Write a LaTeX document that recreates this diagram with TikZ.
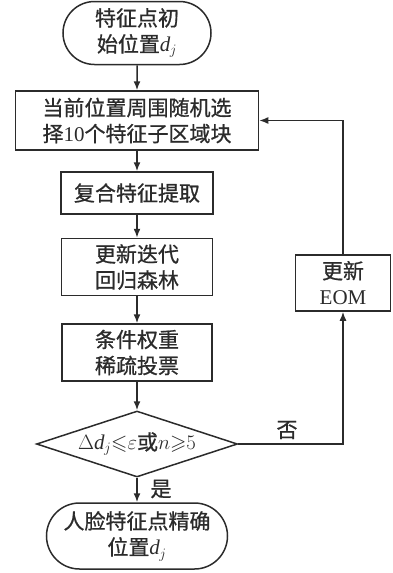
\documentclass[tikz,border=0pt]{standalone}
\usepackage{fontspec}
\usepackage{amssymb}
\setmainfont{Liberation Serif}
\newfontfamily\cjk[FakeBold=0.8]{Noto Sans CJK SC}
\usetikzlibrary{shapes.misc,shapes.geometric,arrows.meta}
\definecolor{ink}{HTML}{2B2B2B}
\newcommand\dvar{{\rmfamily\itshape d}\kern-0.5pt$_j$}
\begin{document}
\begin{tikzpicture}[x=1pt,y=-1pt,
  proc/.style={draw=ink, line width=1.5pt, align=center, inner sep=0pt,
    font=\cjk\fontsize{21}{26}\selectfont, text=ink},
  term/.style={proc, rounded rectangle},
  dec/.style={proc, diamond, aspect=3},
  lbl/.style={font=\cjk\fontsize{21}{26}\selectfont, text=ink, inner sep=0pt},
  arr/.style={draw=ink, line width=1.5pt, -{Latex[length=9pt,width=7pt]}}]
\useasboundingbox (0,0) rectangle (392,573);

\node[term, minimum width=148pt, minimum height=63pt] (start) at (137,33) {特征点初\\始位置\dvar};
\node[proc, minimum width=243pt, minimum height=59pt] (box2) at (137,120.5) {当前位置周围随机选\\择{\rmfamily 10}个特征子区域块};
\node[proc, minimum width=152pt, minimum height=42pt] (box3) at (137,193) {复合特征提取};
\node[proc, minimum width=151pt, minimum height=57pt] (box4) at (137,267) {更新迭代\\回归森林};
\node[proc, minimum width=150pt, minimum height=57pt] (box5) at (137,352.5) {条件权重\\稀疏投票};
\node[dec, minimum width=201pt, minimum height=66pt] (dec) at (137,444) {$\Delta$\dvar${\leqslant}\varepsilon$或$n{\geqslant}5$};
\node[term, minimum width=181pt, minimum height=66pt] (end) at (137,536) {人脸特征点精确\\位置\dvar};
\node[proc, minimum width=95pt, minimum height=56pt] (eom) at (343,283) {更新\\{\rmfamily EOM}};

\node[lbl] (no) at (287,430) {否};
\node[lbl] (yes) at (161,489) {是};

\draw[arr] (start) -- (box2);
\draw[arr] (box2) -- (box3);
\draw[arr] (box3) -- (box4);
\draw[arr] (box4) -- (box5);
\draw[arr] (box5) -- (dec);
\draw[arr] (dec) -- (end);
\draw[arr] (dec.east) -| (eom.south);
\draw[arr] (eom.north) |- (box2.east);
\end{tikzpicture}
\end{document}
